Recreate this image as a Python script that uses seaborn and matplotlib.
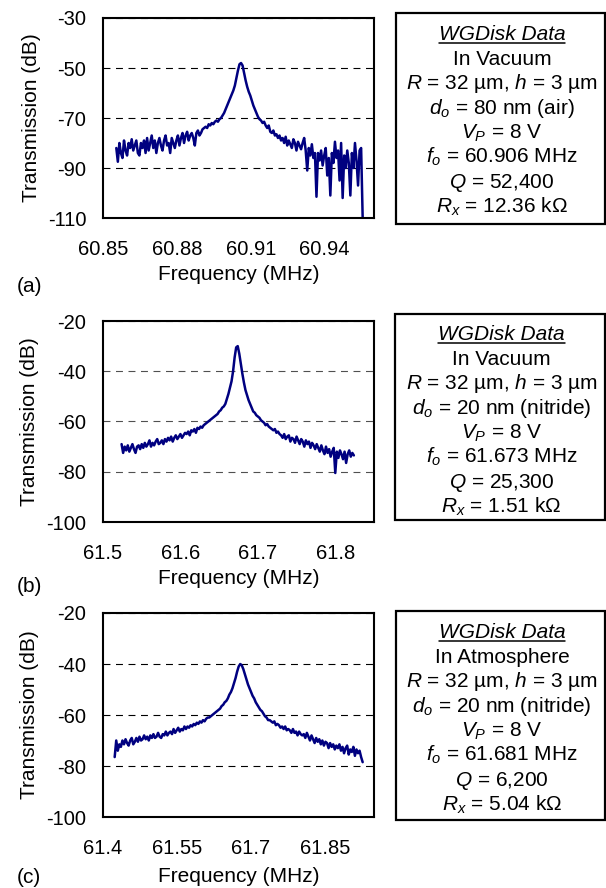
import numpy as np
import pandas as pd
import matplotlib
matplotlib.use('Agg')
import matplotlib.pyplot as plt
from matplotlib.patches import Rectangle
from matplotlib.lines import Line2D
import seaborn as sns

# ---- transmission traces (dB) ----
trans_a = [-82, -87.5, -80, -84, -86, -79, -83, -85, -80, -82, -78.5, -83, -81, -79, -84, -85, -80, -82, -79, -84,
           -78, -83, -80, -77, -82, -79, -84, -80, -78, -81, -83, -79, -77, -81, -80, -84, -78, -80, -82, -79, -77, -81,
           -78, -76, -80, -77, -75.5, -79, -77, -76, -78, -81, -76, -75, -77, -76, -74.5,
           -74, -73.5, -74, -72.5, -73, -72, -72.5, -71.5, -71, -71.5, -70.5, -70, -69,
           -68, -66.5, -65, -63.5, -62, -60.5, -59, -57, -54,
           -51, -48.5, -48, -49, -52,
           -55, -57.5, -59.5, -61, -63, -65, -66.5, -68, -69.5,
           -70.5, -71, -72, -71.5, -73, -74, -73, -75.5, -76, -75, -77, -76.5, -78,
           -77, -79, -78, -80, -77.5, -81, -79, -80.5, -82, -78.5, -80, -83, -79.5, -81, -82.5, -80, -78,
           -83, -91, -82, -85, -80.5, -86, -84,
           -101.5, -84, -87, -83, -89, -85,
           -82, -93, -86, -101, -84, -88,
           -79.5, -86, -83, -95, -80, -102, -85, -90,
           -83, -88, -101, -84, -90, -80, -87, -97, -83, -82, -110]

trans_b = [-69, -72.5, -70, -71.5, -69.5, -72, -70.5, -69, -71, -72.5, -70, -69.5,
           -71, -69, -70.5, -68.5, -70, -69, -67.5, -70, -68.5, -69.5, -68, -67, -69, -68.5, -67.5, -69, -67, -68, -66.5,
           -67.5, -66, -68, -66.5, -65.5, -67, -66, -65, -66.5, -65.5, -64.5,
           -65, -64, -65.5, -63.5, -64, -63, -64.5, -62.5, -63, -62, -62.5,
           -61.5, -61, -60.5, -60, -59.5, -59, -58.5, -58, -57.5, -57, -56, -55.5, -54.5, -54, -53,
           -51, -49, -46.5, -44, -40, -34.5,
           -30.5, -30, -33,
           -37, -41, -44.5, -47.5, -49.5, -51.5, -53, -54.5, -56,
           -56.5, -57.5, -58, -58.5, -59.5, -60, -60.5, -61.5, -61, -62, -62.5, -63, -63.5, -63, -64.5, -64, -65,
           -65.5, -66.5, -65, -67, -66, -65.5, -68, -66.5, -67, -68.5, -66, -67.5, -69, -67, -68, -70, -67.5, -69,
           -68, -70.5, -68.5, -69.5, -71, -69,
           -70.5, -72, -69.5, -71.5, -73, -70, -72.5, -71, -74, -72, -70.5, -80.5, -72, -74.5, -71.5, -73, -75, -72,
           -76.5, -73, -71.5, -74, -72.5, -73.5]

trans_c = [-76.5, -70, -74, -71.5, -72.5, -70, -71.5, -69.5, -71, -72, -70, -69, -71.5, -70.5,
           -69, -70.5, -68.5, -70, -69.5, -68, -69.5, -68.5, -70, -68, -69, -67.5, -69, -68.5, -67, -68.5, -69, -67.5,
           -68, -66.5, -68, -67,
           -66.5, -67.5, -65.5, -67, -66, -65, -66.5, -65.5, -66, -64.5, -65.5, -64.5, -65,
           -64, -64.5, -63.5, -64, -63, -63.5, -62.5, -63, -62, -62.5, -61.5, -61, -61, -60.5, -60,
           -59.5, -59, -58.5, -58, -57.5, -56.5, -56, -55, -54.5, -53.5, -52, -51, -49.5, -47.5, -45.5, -43,
           -41, -40, -40.5, -42,
           -44, -46, -48, -49.5, -51, -52.5, -53.5, -55, -56, -57, -58, -58.5, -59.5, -60.5, -61, -62,
           -62, -62.5, -63, -62.5, -64, -63.5, -64, -65, -64.5, -65.5, -64.5, -66, -65.5, -66, -67, -65.5, -67, -66.5,
           -68, -66.5, -67.5, -68,
           -67.5, -69, -67, -68.5, -70, -68, -69.5, -71, -69, -70.5, -69.5, -71.5, -70, -72, -70.5, -71, -73, -71,
           -72.5, -71.5, -73.5, -72,
           -73, -71.5, -74, -72.5, -75, -73, -72, -75.5, -73.5, -74.5, -72.5, -76, -73.5, -75, -74, -76.5, -78.5]

# sweep start / stop (MHz)
sweep_a = (60.8554, 60.9554)
sweep_b = (61.524, 61.824)
sweep_c = (61.4237, 61.927)

xlim_a, xlim_b, xlim_c = (60.85, 60.96), (61.5, 61.85), (61.4, 61.95)
xticks_a = [60.85, 60.88, 60.91, 60.94]
xticks_b = [61.5, 61.6, 61.7, 61.8]
xticks_c = [61.4, 61.55, 61.7, 61.85]
xlabels_a = ['60.85', '60.88', '60.91', '60.94']
xlabels_b = ['61.5', '61.6', '61.7', '61.8']
xlabels_c = ['61.4', '61.55', '61.7', '61.85']
yticks_a = [-110, -90, -70, -50, -30]
yticks_bc = [-100, -80, -60, -40, -20]

info_a = ['WGDisk Data', 'In Vacuum', '$R$ = 32 µm, $h$ = 3 µm', '$d_o$ = 80 nm (air)',
          '$V_P$ = 8 V', '$f_o$ = 60.906 MHz', '$Q$ = 52,400', '$R_x$ = 12.36 kΩ']
info_b = ['WGDisk Data', 'In Vacuum', '$R$ = 32 µm, $h$ = 3 µm', '$d_o$ = 20 nm (nitride)',
          '$V_P$ = 8 V', '$f_o$ = 61.673 MHz', '$Q$ = 25,300', '$R_x$ = 1.51 kΩ']
info_c = ['WGDisk Data', 'In Atmosphere', '$R$ = 32 µm, $h$ = 3 µm', '$d_o$ = 20 nm (nitride)',
          '$V_P$ = 8 V', '$f_o$ = 61.681 MHz', '$Q$ = 6,200', '$R_x$ = 5.04 kΩ']

# ---- style ----
sns.set_style('white')
plt.rcParams['font.family'] = ['Liberation Sans', 'DejaVu Sans']
plt.rcParams['mathtext.fontset'] = 'custom'
plt.rcParams['mathtext.rm'] = 'Liberation Sans'
plt.rcParams['mathtext.it'] = 'Liberation Sans:italic'
plt.rcParams['mathtext.sf'] = 'Liberation Sans'
plt.rcParams['text.color'] = 'black'
plt.rcParams['axes.labelcolor'] = 'black'
plt.rcParams['xtick.color'] = 'black'
plt.rcParams['ytick.color'] = 'black'

W, H = 606, 888
fig = plt.figure(figsize=(W / 100, H / 100), dpi=100)

panels = [
    # trace, sweep, xlim, xticks, xlabels, ylim, yticks, axes px (l, t, r, b), grid colour, letter, letter y, xlabelpad
    (trans_a, sweep_a, xlim_a, xticks_a, xlabels_a, (-110, -30), yticks_a, (103, 18, 374, 218), 'black', '(a)', 287, 4.5,
     info_a, (396, 13, 605, 224), 40),
    (trans_b, sweep_b, xlim_b, xticks_b, xlabels_b, (-100, -20), yticks_bc, (103, 321, 374, 522), '#505050', '(b)', 587, 4.5,
     info_b, (395, 314, 605, 520), 340),
    (trans_c, sweep_c, xlim_c, xticks_c, xlabels_c, (-100, -20), yticks_bc, (103, 613, 374, 817), 'black', '(c)', 877, 6.5,
     info_c, (396, 611, 605, 820), 638),
]

titles = []
for (trans, sweep, xlim, xt, xtl, ylim, yt, box, gcol, letter, ly, xpad, info, ibox, base0) in panels:
    l, t, r, b = box
    ax = fig.add_axes([l / W, 1 - b / H, (r - l) / W, (b - t) / H])
    df = pd.DataFrame({'freq': np.linspace(sweep[0], sweep[1], len(trans)), 'trans': trans})
    sns.lineplot(data=df, x='freq', y='trans', ax=ax, color='#000080', linewidth=1.8,
                 estimator=None, sort=False, legend=False)
    ax.set_xlim(*xlim)
    ax.set_ylim(*ylim)
    ax.set_xticks(xt)
    ax.set_xticklabels(xtl)
    ax.set_yticks(yt)
    ax.set_yticklabels([str(v) for v in yt])
    ax.tick_params(axis='x', direction='in', length=4, width=1, pad=16, labelsize=14.5, colors='black')
    ax.tick_params(axis='y', length=0, pad=12, labelsize=14.5, colors='black')
    ax.set_axisbelow(True)
    ax.yaxis.grid(True, color=gcol, linewidth=0.8, linestyle=(0, (6.25, 5)))
    ax.xaxis.grid(False)
    for s in ax.spines.values():
        s.set_visible(True)
        s.set_color('black')
        s.set_linewidth(1.5)
    ax.set_xlabel('Frequency (MHz)', fontsize=15, labelpad=xpad, color='black')
    ax.set_ylabel('Transmission (dB)', fontsize=15, labelpad=5, color='black')
    fig.text(17 / W, 1 - ly / H, letter, fontsize=15, ha='left', va='center', color='black')

    # parameter box
    bl, bt, br, bb = ibox
    fig.add_artist(Rectangle((bl / W, 1 - bb / H), (br - bl) / W, (bb - bt) / H, transform=fig.transFigure,
                             fill=False, edgecolor='black', linewidth=1.6))
    cx = (bl + br) / 2 / W + 1.5 / W
    for i, line in enumerate(info):
        y = 1 - (base0 + i * 24.6) / H
        txt = fig.text(cx, y, line, fontsize=15, ha='center', va='baseline', color='black',
                       style='italic' if i == 0 else 'normal')
        if i == 0:
            titles.append((txt, base0))

# underline the italic heading of each box
fig.canvas.draw()
renderer = fig.canvas.get_renderer()
for txt, base0 in titles:
    ext = txt.get_window_extent(renderer)
    yy = 1 - (base0 + 3) / H
    fig.add_artist(Line2D([ext.x0 / W, ext.x1 / W], [yy, yy], transform=fig.transFigure,
                          color='black', linewidth=1.1))

fig.savefig('out.png', dpi=100)
